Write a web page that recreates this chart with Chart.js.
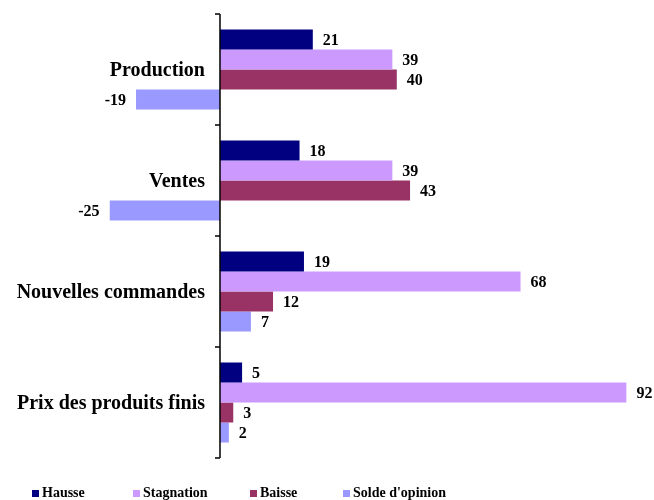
<!DOCTYPE html>
<html>
<head>
<meta charset="utf-8">
<script src="https://cdn.jsdelivr.net/npm/chart.js@4.4.0/dist/chart.umd.min.js"></script>
<style>
  body { margin: 0; background: #fff; }
  #wrap { position: relative; width: 654px; height: 500px; overflow: hidden; }
  #legend { position: absolute; left: 0; top: 486px; width: 654px; height: 14px; font: bold 14px "Liberation Serif", serif; color: #000; }
  #legend .item { position: absolute; top: 0; display: flex; align-items: center; height: 14px; line-height: 14px; white-space: nowrap; }
  #legend .box { width: 7px; height: 7px; margin-right: 3px; }
</style>
</head>
<body>
<div id="wrap">
  <canvas id="myChart" width="654" height="500"></canvas>
  <div id="legend"></div>
</div>
<script>
const categories = ['Production', 'Ventes', 'Nouvelles commandes', 'Prix des produits finis'];
const hausse = [21, 18, 19, 5];
const stagnation = [39, 39, 68, 92];
const baisse = [40, 43, 12, 3];
const soldeOpinion = [-19, -25, 7, 2];
const seriesNames = ['Hausse', 'Stagnation', 'Baisse', "Solde d'opinion"];

const colors = ['#000080', '#cc99ff', '#993366', '#9999ff'];

// axis line at zero, tick marks, category names and value labels
const axisAndLabels = {
    id: 'axisAndLabels',
    afterDatasetsDraw(chart) {
        const c = chart.ctx;
        const x = chart.scales.x;
        const y = chart.scales.y;
        const area = chart.chartArea;
        const x0 = x.getPixelForValue(0);
        c.save();

        c.font = 'bold 16px "Liberation Serif", serif';
        c.fillStyle = '#000';
        c.textBaseline = 'middle';
        chart.data.datasets.forEach((ds, i) => {
            chart.getDatasetMeta(i).data.forEach((bar, j) => {
                const v = ds.data[j];
                c.textAlign = v < 0 ? 'right' : 'left';
                c.fillText(String(v), bar.x + (v < 0 ? -10 : 10), bar.y + 1);
            });
        });

        c.strokeStyle = '#000';
        c.lineWidth = 1.5;
        c.beginPath();
        c.moveTo(x0, area.top);
        c.lineTo(x0, area.bottom);
        for (let k = 0; k <= categories.length; k++) {
            const py = y.getPixelForValue(k - 0.5);
            c.moveTo(x0 - 5, py);
            c.lineTo(x0, py);
        }
        c.stroke();

        c.font = 'bold 20px "Liberation Serif", serif';
        c.textAlign = 'right';
        categories.forEach((lab, k) => {
            c.fillText(lab, x0 - 15, y.getPixelForValue(k) + 1);
        });
        c.restore();
    }
};

const ctx = document.getElementById('myChart').getContext('2d');
const myChart = new Chart(ctx, {
    type: 'bar',
    data: {
        labels: categories,
        datasets: [
            { label: seriesNames[0], data: hausse, backgroundColor: colors[0] },
            { label: seriesNames[1], data: stagnation, backgroundColor: colors[1] },
            { label: seriesNames[2], data: baisse, backgroundColor: colors[2] },
            { label: seriesNames[3], data: soldeOpinion, backgroundColor: colors[3] },
        ]
    },
    options: {
        indexAxis: 'y',
        responsive: false,
        animation: false,
        layout: { padding: { left: 109.5, right: 27.4, top: 14, bottom: 42 } },
        datasets: { bar: { barPercentage: 1, categoryPercentage: 0.72 } },
        plugins: {
            legend: { display: false },
            tooltip: { enabled: false }
        },
        scales: {
            x: { display: false, min: -25, max: 92 },
            y: { display: false, offset: true }
        }
    },
    plugins: [axisAndLabels]
});

// legend under the chart
const legendLeft = [32, 133, 250, 343];
const legend = document.getElementById('legend');
myChart.data.datasets.forEach((ds, i) => {
    const item = document.createElement('div');
    item.className = 'item';
    item.style.left = legendLeft[i] + 'px';
    const box = document.createElement('span');
    box.className = 'box';
    box.style.background = ds.backgroundColor;
    const txt = document.createElement('span');
    txt.textContent = ds.label;
    item.appendChild(box);
    item.appendChild(txt);
    legend.appendChild(item);
});
</script>
</body>
</html>
